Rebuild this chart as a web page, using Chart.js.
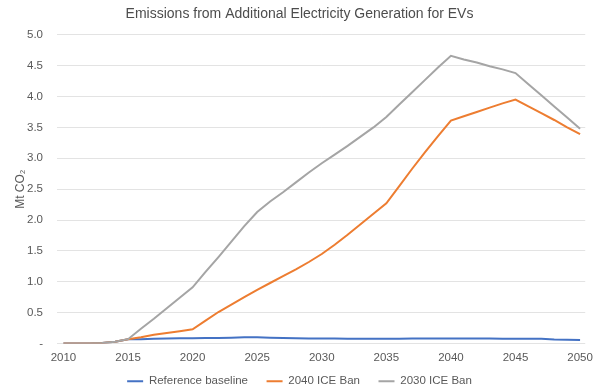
<!DOCTYPE html>
<html>
<head>
<meta charset="utf-8">
<script src="https://cdn.jsdelivr.net/npm/chart.js@4"></script>
<style>
    html, body { margin: 0; padding: 0; background: #fff; }
    #wrap { width: 600px; height: 391px; }
</style>
</head>
<body>
<div id="wrap"><canvas id="emissionsChart"></canvas></div>
<script>
// Data (Mt CO2 per year)
const years = [];
for (let y = 2010; y <= 2050; y++) years.push(y);

const referenceBaseline = [
    0, 0, 0, 0.01, 0.03,
    0.07, 0.07, 0.075, 0.08, 0.085,
    0.085, 0.09, 0.09, 0.095, 0.1,
    0.1, 0.095, 0.09, 0.085, 0.08,
    0.08, 0.08, 0.078, 0.076, 0.075,
    0.075, 0.078, 0.08, 0.08, 0.08,
    0.08, 0.08, 0.08, 0.08, 0.078,
    0.075, 0.075, 0.075, 0.065, 0.06,
    0.055
];
const ban2040 = [
    0, 0, 0, 0.01, 0.03,
    0.07, 0.1, 0.14, 0.17, 0.2,
    0.23, 0.37, 0.51, 0.63, 0.75,
    0.87, 0.98, 1.09, 1.2, 1.32,
    1.45, 1.6, 1.76, 1.93, 2.1,
    2.27, 2.55, 2.83, 3.1, 3.36,
    3.61, 3.68, 3.75, 3.82, 3.89,
    3.95, 3.84, 3.73, 3.62, 3.5,
    3.39
];
const ban2030 = [
    0, 0, 0, 0.01, 0.03,
    0.07, 0.24, 0.4, 0.57, 0.74,
    0.91, 1.16, 1.4, 1.65, 1.9,
    2.13, 2.3, 2.45, 2.61, 2.77,
    2.92, 3.06, 3.2, 3.35, 3.5,
    3.67, 3.87, 4.07, 4.27, 4.47,
    4.66, 4.6, 4.55, 4.49, 4.44,
    4.38, 4.2, 4.02, 3.84, 3.66,
    3.48
];
const xTicks = [2010, 2015, 2020, 2025, 2030, 2035, 2040, 2045, 2050];

const txt = '#595959';
Chart.defaults.font.family = '"Liberation Sans", Arial, sans-serif';

const ctx = document.getElementById('emissionsChart').getContext('2d');
new Chart(ctx, {
    type: 'line',
    data: {
        labels: years,
        datasets: [
            { label: 'Reference baseline', data: referenceBaseline, borderColor: '#4472C4', backgroundColor: '#4472C4', borderWidth: 2, order: 3 },
            { label: '2040 ICE Ban', data: ban2040, borderColor: '#ED7D31', backgroundColor: '#ED7D31', borderWidth: 2, order: 2 },
            { label: '2030 ICE Ban', data: ban2030, borderColor: '#A5A5A5', backgroundColor: '#A5A5A5', borderWidth: 2, order: 1 }
        ]
    },
    options: {
        responsive: true,
        maintainAspectRatio: false,
        animation: false,
        elements: { point: { radius: 0 }, line: { tension: 0 } },
        layout: { padding: { left: 13, right: 14, top: 4, bottom: -6 } },
        plugins: {
            title: {
                display: true,
                text: 'Emissions from Additional Electricity Generation for EVs',
                color: '#4d4d4d',
                font: { size: 14, weight: 'normal' },
                padding: { top: 2, bottom: 12 }
            },
            legend: {
                position: 'bottom',
                labels: {
                    color: txt,
                    font: { size: 11.5 },
                    usePointStyle: true,
                    pointStyle: 'line',
                    pointStyleWidth: 16,
                    boxHeight: 2,
                    padding: 9,
                    sort: (a, b) => a.datasetIndex - b.datasetIndex,
                    // widen the gap between entries without changing the legend height
                    generateLabels: chart => Chart.defaults.plugins.legend.labels.generateLabels(chart)
                        .map(item => ({ ...item, text: item.datasetIndex < 2 ? item.text + '   ' : item.text }))
                }
            },
            tooltip: { enabled: false }
        },
        scales: {
            x: {
                type: 'linear',
                min: 2009.5,
                max: 2050.4,
                afterBuildTicks: axis => { axis.ticks = xTicks.map(v => ({ value: v })); },
                afterFit: axis => { axis.height = 23; },
                grid: { display: false, drawTicks: false },
                border: { display: false },
                ticks: { color: txt, font: { size: 11.5 }, callback: v => String(v), maxRotation: 0, padding: 7 }
            },
            y: {
                min: 0,
                max: 5,
                afterFit: axis => { axis.width = 44; },
                ticks: {
                    stepSize: 0.5,
                    color: txt,
                    font: { size: 11.5 },
                    padding: 14,
                    callback: v => v === 0 ? '-' : v.toFixed(1)
                },
                grid: { color: '#e3e3e3', drawTicks: false },
                border: { display: false },
                title: { display: true, text: 'Mt CO₂', color: txt, font: { size: 12 }, padding: { top: 0, bottom: 0 } }
            }
        }
    }
});
</script>
</body>
</html>
